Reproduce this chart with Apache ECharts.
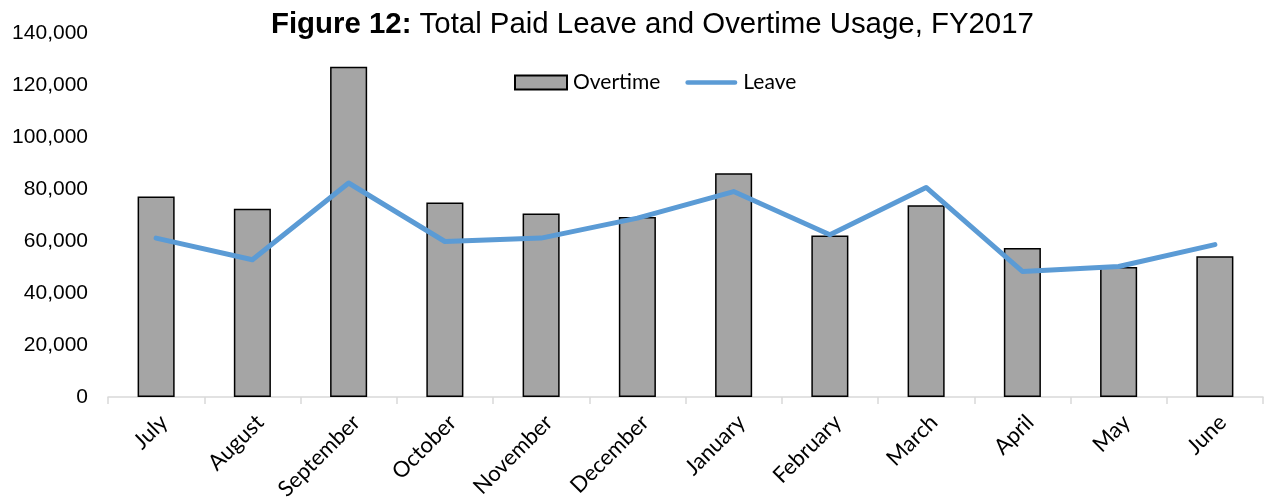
<!DOCTYPE html>
<html>
<head>
<meta charset="utf-8">
<script src="https://cdn.jsdelivr.net/npm/echarts@6/dist/echarts.min.js"></script>
<style>
  html, body { margin: 0; padding: 0; background: #fff; }
  #chart { width: 1264px; height: 503px; }
</style>
</head>
<body>
<div id="chart"></div>
<script>
// Monthly totals, fiscal year 2017
const months = ['July', 'August', 'September', 'October', 'November', 'December',
                'January', 'February', 'March', 'April', 'May', 'June'];
const overtime = [77100, 72400, 127000, 74800, 70600, 69200, 86100, 62100, 73700, 57300, 50000, 54100];
const leave = [61100, 52800, 82300, 59800, 61100, 68800, 79000, 62400, 80600, 48300, 50200, 58600];
const yTicks = { min: 0, max: 140000, step: 20000 };

// thick rounded stroke used as the legend key of the line series
const lineKey = 'path://M2.5,0 L53.5,0 A2.5,2.5 0 0 1 53.5,5 L2.5,5 A2.5,2.5 0 0 1 2.5,0 Z';

const chart = echarts.init(document.getElementById('chart'), null, { renderer: 'canvas' });

chart.setOption({
  animation: false,
  backgroundColor: '#ffffff',
  title: {
    text: '{b|Figure 12:} Total Paid Leave and Overtime Usage, FY2017',
    left: 271,
    top: 10,
    padding: 0,
    textStyle: {
      rich: {
        b: { fontFamily: 'Liberation Sans', fontSize: 29.4, fontWeight: 'bold', color: '#000' }
      },
      fontFamily: 'Liberation Sans',
      fontSize: 29.4,
      fontWeight: 'normal',
      color: '#000'
    }
  },
  legend: {
    left: 514,
    top: 72,
    padding: 0,
    itemWidth: 52,
    itemHeight: 14,
    itemGap: 25,
    textStyle: { fontFamily: 'Lato', fontSize: 21, color: '#000', padding: [0, 0, 0, 1] },
    data: [
      { name: 'Overtime', icon: 'rect' },
      { name: 'Leave', icon: lineKey, itemStyle: { color: '#5b9bd5', borderWidth: 0 } }
    ]
  },
  grid: { left: 108, right: 1, top: 33, bottom: 105.5, containLabel: false },
  xAxis: {
    type: 'category',
    data: months,
    boundaryGap: true,
    axisLine: { show: true, lineStyle: { color: '#d9d9d9', width: 1.5 } },
    axisTick: { show: true, length: 7, lineStyle: { color: '#d9d9d9', width: 1.5 } },
    axisLabel: {
      rotate: 45,
      margin: 14,
      align: 'right',
      verticalAlign: 'top',
      fontFamily: 'Lato',
      fontSize: 22,
      color: '#000',
      interval: 0
    }
  },
  yAxis: {
    type: 'value',
    min: yTicks.min,
    max: yTicks.max,
    interval: yTicks.step,
    splitLine: { show: false },
    axisLine: { show: false },
    axisTick: { show: false },
    axisLabel: {
      margin: 20,
      fontFamily: 'Liberation Sans',
      fontSize: 21,
      color: '#000',
      formatter: v => v.toLocaleString('en-US')
    }
  },
  series: [
    {
      name: 'Overtime',
      type: 'bar',
      data: overtime,
      barWidth: '38.5%',
      itemStyle: { color: '#a5a5a5', borderColor: '#000', borderWidth: 1.5 }
    },
    {
      name: 'Leave',
      type: 'line',
      data: leave,
      symbol: 'none',
      lineStyle: { color: '#5b9bd5', width: 5, cap: 'round', join: 'round' },
      itemStyle: { color: '#5b9bd5' }
    }
  ]
});
</script>
</body>
</html>
